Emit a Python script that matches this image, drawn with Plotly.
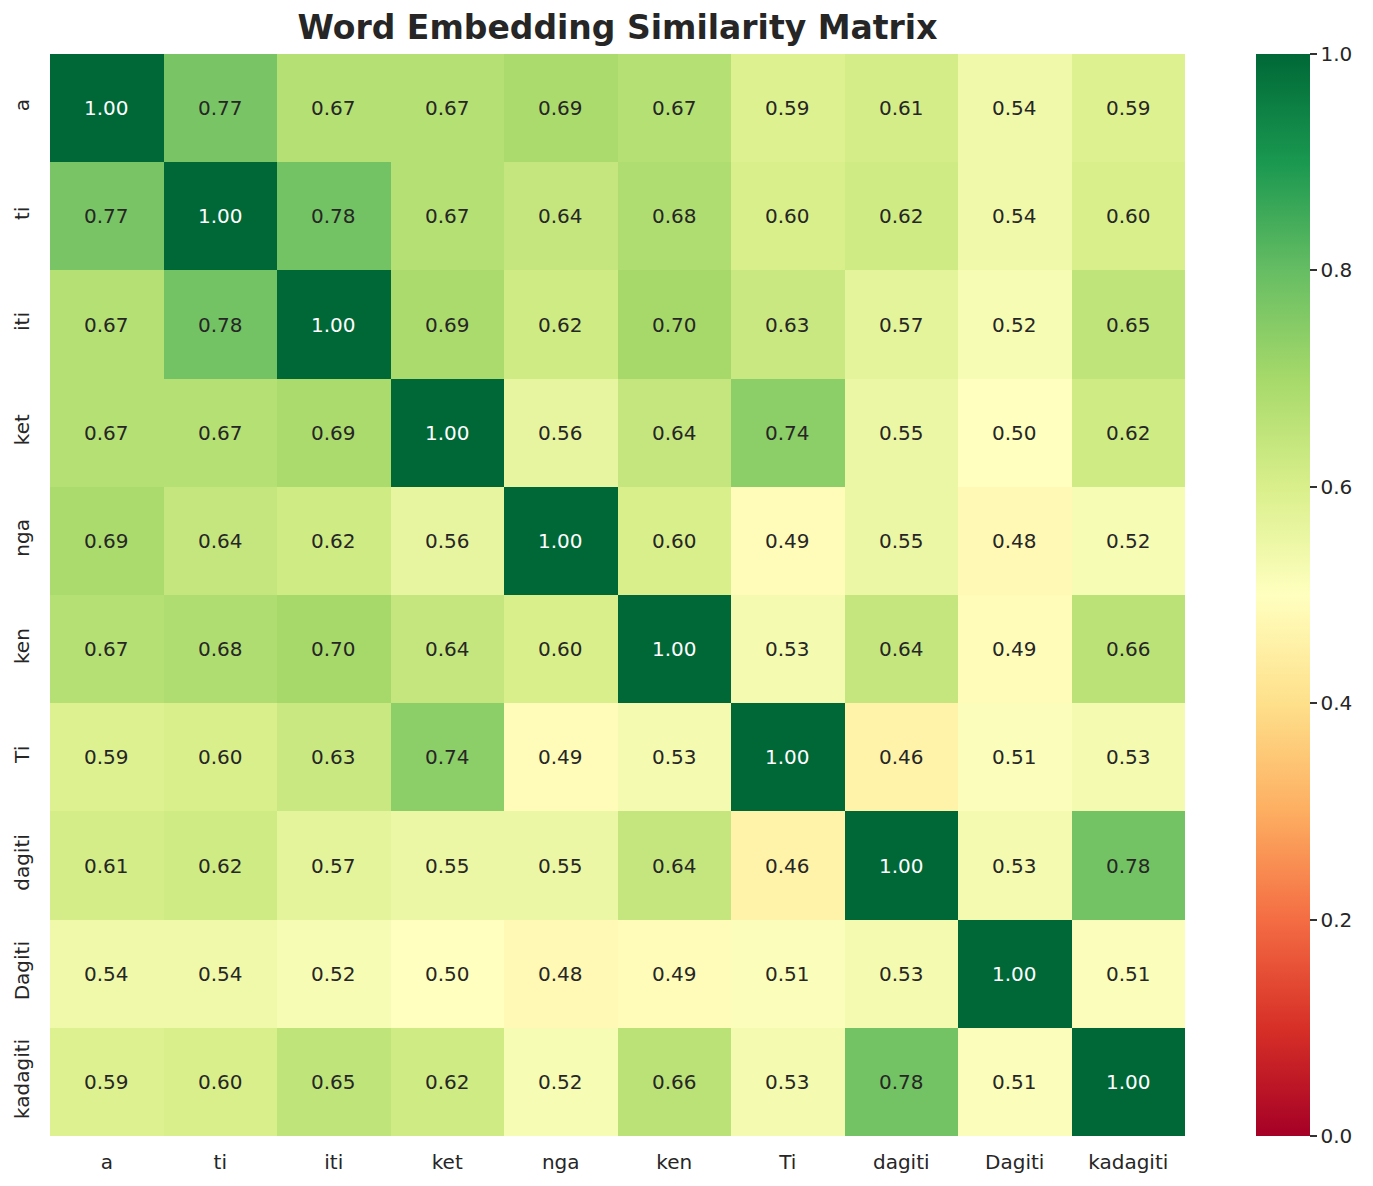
import plotly.graph_objects as go

words = ["a", "ti", "iti", "ket", "nga", "ken", "Ti", "dagiti", "Dagiti", "kadagiti"]

row_a        = [1.00, 0.77, 0.67, 0.67, 0.69, 0.67, 0.59, 0.61, 0.54, 0.59]
row_ti       = [0.77, 1.00, 0.78, 0.67, 0.64, 0.68, 0.60, 0.62, 0.54, 0.60]
row_iti      = [0.67, 0.78, 1.00, 0.69, 0.62, 0.70, 0.63, 0.57, 0.52, 0.65]
row_ket      = [0.67, 0.67, 0.69, 1.00, 0.56, 0.64, 0.74, 0.55, 0.50, 0.62]
row_nga      = [0.69, 0.64, 0.62, 0.56, 1.00, 0.60, 0.49, 0.55, 0.48, 0.52]
row_ken      = [0.67, 0.68, 0.70, 0.64, 0.60, 1.00, 0.53, 0.64, 0.49, 0.66]
row_Ti       = [0.59, 0.60, 0.63, 0.74, 0.49, 0.53, 1.00, 0.46, 0.51, 0.53]
row_dagiti   = [0.61, 0.62, 0.57, 0.55, 0.55, 0.64, 0.46, 1.00, 0.53, 0.78]
row_Dagiti   = [0.54, 0.54, 0.52, 0.50, 0.48, 0.49, 0.51, 0.53, 1.00, 0.51]
row_kadagiti = [0.59, 0.60, 0.65, 0.62, 0.52, 0.66, 0.53, 0.78, 0.51, 1.00]

z = [row_a, row_ti, row_iti, row_ket, row_nga, row_ken, row_Ti, row_dagiti, row_Dagiti, row_kadagiti]

cbar_ticks = [0.0, 0.2, 0.4, 0.6, 0.8, 1.0]
cbar_labels = ["0.0", "0.2", "0.4", "0.6", "0.8", "1.0"]

FONT = "DejaVu Sans"
TXT = "#262626"
L, R, T, B = 50, 188, 54, 50
W, H = 1373, 1186
plot_w = W - L - R

fig = go.Figure()
fig.add_trace(go.Heatmap(
    z=z, x=words, y=words,
    colorscale="RdYlGn", zmin=0, zmax=1,
    xgap=0, ygap=0,
    colorbar=dict(
        x=(1256 - L) / plot_w, xanchor="left", xref="paper", xpad=0,
        y=0.5, yanchor="middle", len=1.0, lenmode="fraction", ypad=0,
        thickness=54, outlinewidth=0,
        tickvals=cbar_ticks, ticktext=cbar_labels,
        ticks="outside", ticklen=7, tickwidth=1.5, tickcolor="#333333",
        tickfont=dict(family=FONT, size=20, color=TXT),
    ),
    hoverinfo="skip",
))

annotations = []
for i, rname in enumerate(words):
    for j, cname in enumerate(words):
        v = z[i][j]
        annotations.append(dict(
            x=cname, y=rname, text=f"{v:.2f}", showarrow=False,
            font=dict(family=FONT, size=20,
                      color="white" if v >= 0.85 else TXT),
        ))

fig.update_layout(
    width=W, height=H,
    margin=dict(l=L, r=R, t=T, b=B),
    paper_bgcolor="white", plot_bgcolor="white",
    title=dict(text="<b>Word Embedding Similarity Matrix</b>",
               x=(L + W - R) / 2 / W, xanchor="center",
               y=1 - 27 / H, yanchor="middle",
               font=dict(family=FONT, size=33, color=TXT)),
    annotations=annotations,
    xaxis=dict(showgrid=False, zeroline=False, showline=False, automargin=False,
               ticks="outside", ticklen=8, tickcolor="rgba(0,0,0,0)",
               tickfont=dict(family=FONT, size=20, color=TXT)),
    yaxis=dict(showgrid=False, zeroline=False, showline=False, automargin=False,
               ticks="outside", ticklen=12, tickcolor="rgba(0,0,0,0)",
               autorange="reversed", tickangle=-90,
               tickfont=dict(family=FONT, size=20, color=TXT)),
)

fig.write_html("out.html")
